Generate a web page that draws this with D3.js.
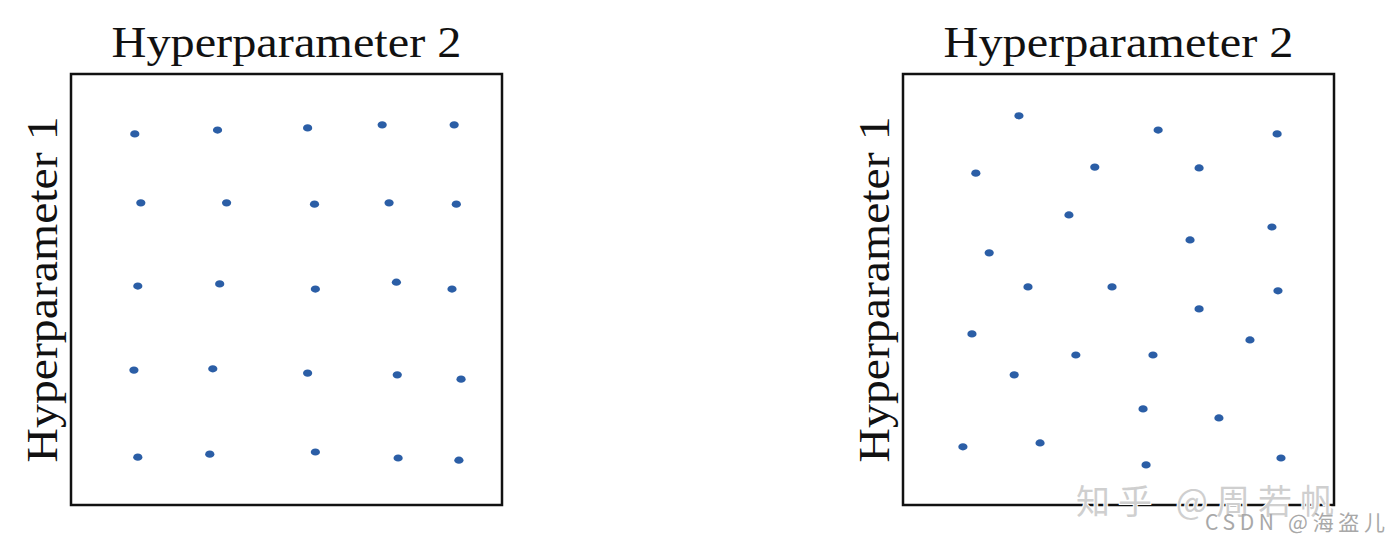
<!DOCTYPE html>
<html>
<head>
<meta charset="utf-8">
<script src="https://cdn.jsdelivr.net/npm/d3@7"></script>
<style>
  body { margin: 0; background: #fff; }
  svg { display: block; }
</style>
</head>
<body>
<div id="chart"></div>
<script>
// grid search: hyperparameter 2 (x) and hyperparameter 1 (y), values in 0..1
const gridX = [0.148, 0.340, 0.549, 0.722, 0.889,
               0.162, 0.361, 0.565, 0.738, 0.894,
               0.155, 0.345, 0.567, 0.755, 0.884,
               0.146, 0.329, 0.549, 0.757, 0.905,
               0.155, 0.322, 0.567, 0.759, 0.900]
const gridY = [0.861, 0.870, 0.875, 0.882, 0.882,
               0.701, 0.701, 0.698, 0.701, 0.698,
               0.508, 0.513, 0.501, 0.517, 0.501,
               0.313, 0.316, 0.306, 0.302, 0.292,
               0.111, 0.118, 0.123, 0.109, 0.104]

// random search
const randX = [0.269, 0.592, 0.868, 0.169, 0.445, 0.687, 0.385, 0.856, 0.666,
               0.200, 0.290, 0.485, 0.870, 0.687, 0.160, 0.805, 0.401, 0.580,
               0.258, 0.557, 0.733, 0.139, 0.318, 0.564, 0.877]
const randY = [0.903, 0.870, 0.861, 0.770, 0.784, 0.782, 0.673, 0.645, 0.615,
               0.585, 0.506, 0.506, 0.497, 0.455, 0.397, 0.383, 0.348, 0.348,
               0.302, 0.223, 0.202, 0.135, 0.144, 0.093, 0.109]

const xTitle = 'Hyperparameter 2'
const yTitle = 'Hyperparameter 1'

const width = 1390, height = 546
const dotColor = '#2b5ea6'

const svg = d3.select('#chart').append('svg')
    .attr('width', width)
    .attr('height', height)

const panels = [
    {left: 71, xs: gridX, ys: gridY},
    {left: 903, xs: randX, ys: randY}
]
const boxTop = 74, size = 431

panels.forEach(p => {
    const x = d3.scaleLinear().domain([0, 1]).range([p.left, p.left + size])
    const y = d3.scaleLinear().domain([0, 1]).range([boxTop + size, boxTop])
    const g = svg.append('g')

    g.append('rect')
        .attr('x', x(0))
        .attr('y', y(1))
        .attr('width', x(1) - x(0))
        .attr('height', y(0) - y(1))
        .attr('fill', 'none')
        .attr('stroke', '#111')
        .attr('stroke-width', 2.5)

    const pts = d3.zip(p.xs, p.ys)
    g.selectAll('ellipse')
        .data(pts)
        .enter()
        .append('ellipse')
        .attr('cx', d => x(d[0]))
        .attr('cy', d => y(d[1]))
        .attr('rx', 4.6)
        .attr('ry', 3.6)
        .attr('fill', dotColor)

    g.append('text')
        .text(xTitle)
        .attr('x', (x(0) + x(1)) / 2)
        .attr('y', 57)
        .attr('text-anchor', 'middle')
        .attr('font-family', '"Liberation Serif", "DejaVu Serif", serif')
        .attr('font-size', 44)
        .attr('textLength', 350)
        .attr('lengthAdjust', 'spacingAndGlyphs')
        .attr('fill', '#111')

    g.append('text')
        .text(yTitle)
        .attr('transform', `translate(${x(0) - 14}, ${(y(0) + y(1)) / 2}) rotate(-90)`)
        .attr('text-anchor', 'middle')
        .attr('font-family', '"Liberation Serif", "DejaVu Serif", serif')
        .attr('font-size', 44)
        .attr('textLength', 346)
        .attr('lengthAdjust', 'spacingAndGlyphs')
        .attr('fill', '#111')
})

// watermarks
svg.append('text')
    .text('知乎 @周若帆')
    .attr('x', 1076)
    .attr('y', 514)
    .attr('font-family', '"Noto Sans CJK SC", sans-serif')
    .attr('font-size', 34)
    .attr('textLength', 258)
    .attr('fill', '#cfcfcf')
    .attr('stroke', '#fff')
    .attr('stroke-width', 2)
    .attr('paint-order', 'stroke')

svg.append('text')
    .text('CSDN @海盗儿')
    .attr('x', 1205)
    .attr('y', 530)
    .attr('font-family', '"Noto Sans CJK SC", sans-serif')
    .attr('font-size', 21)
    .attr('textLength', 180)
    .attr('fill', '#a8a8a8')
</script>
</body>
</html>
